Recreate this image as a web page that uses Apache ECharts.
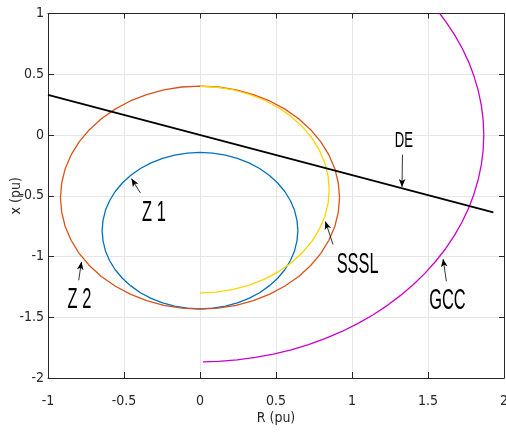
<!DOCTYPE html>
<html><head><meta charset="utf-8">
<script src="https://cdn.jsdelivr.net/npm/echarts@6/dist/echarts.min.js"></script>
<style>html,body{margin:0;padding:0;background:#fff}#c{width:506px;height:439px}</style>
</head><body><div id="c"></div>
<script>
// ---- data ----
const xTicks = [-1, -0.5, 0, 0.5, 1, 1.5, 2];
const yTicks = [-2, -1.5, -1, -0.5, 0, 0.5, 1];

const z1 = [[0.644,-0.787],[0.638,-0.703],[0.622,-0.620],[0.595,-0.541],[0.558,-0.465],[0.511,-0.395],[0.455,-0.332],
  [0.392,-0.276],[0.322,-0.229],[0.246,-0.192],[0.167,-0.165],[0.084,-0.149],[0,-0.143],
  [-0.084,-0.149],[-0.167,-0.165],[-0.246,-0.192],[-0.322,-0.229],[-0.392,-0.276],[-0.455,-0.332],[-0.511,-0.395],
  [-0.558,-0.465],[-0.595,-0.541],[-0.622,-0.620],[-0.638,-0.703],[-0.644,-0.787],
  [-0.638,-0.871],[-0.622,-0.954],[-0.595,-1.033],[-0.558,-1.109],[-0.511,-1.179],[-0.455,-1.242],[-0.392,-1.298],
  [-0.322,-1.345],[-0.246,-1.382],[-0.167,-1.409],[-0.084,-1.425],[0,-1.431],
  [0.084,-1.425],[0.167,-1.409],[0.246,-1.382],[0.322,-1.345],[0.392,-1.298],[0.455,-1.242],[0.511,-1.179],
  [0.558,-1.109],[0.595,-1.033],[0.622,-0.954],[0.638,-0.871],[0.644,-0.787]];

const z2 = [[0.918,-0.515],[0.910,-0.395],[0.887,-0.277],[0.848,-0.164],[0.795,-0.056],[0.728,0.044],[0.649,0.134],
  [0.559,0.213],[0.459,0.280],[0.351,0.333],[0.238,0.372],[0.120,0.395],[0,0.403],
  [-0.120,0.395],[-0.238,0.372],[-0.351,0.333],[-0.459,0.280],[-0.559,0.213],[-0.649,0.134],[-0.728,0.044],
  [-0.795,-0.056],[-0.848,-0.164],[-0.887,-0.277],[-0.910,-0.395],[-0.918,-0.515],
  [-0.910,-0.635],[-0.887,-0.753],[-0.848,-0.866],[-0.795,-0.974],[-0.728,-1.074],[-0.649,-1.164],[-0.559,-1.243],
  [-0.459,-1.310],[-0.351,-1.363],[-0.238,-1.402],[-0.120,-1.425],[0,-1.433],
  [0.120,-1.425],[0.238,-1.402],[0.351,-1.363],[0.459,-1.310],[0.559,-1.243],[0.649,-1.164],[0.728,-1.074],
  [0.795,-0.974],[0.848,-0.866],[0.887,-0.753],[0.910,-0.635],[0.918,-0.515]];

const sssl = [[0,0.400],[0.111,0.393],[0.220,0.371],[0.325,0.335],[0.425,0.286],[0.517,0.224],[0.601,0.151],
  [0.674,0.067],[0.736,-0.025],[0.785,-0.125],[0.821,-0.230],[0.843,-0.339],[0.850,-0.450],
  [0.843,-0.561],[0.821,-0.670],[0.785,-0.775],[0.736,-0.875],[0.674,-0.967],[0.601,-1.051],
  [0.517,-1.124],[0.425,-1.186],[0.325,-1.235],[0.220,-1.271],[0.111,-1.293],[0,-1.300]];

const gcc = [[1.577,1.000],[1.617,0.934],[1.674,0.826],[1.725,0.714],[1.768,0.600],[1.803,0.483],[1.831,0.364],
  [1.851,0.244],[1.863,0.122],[1.867,0],
  [1.863,-0.122],[1.851,-0.244],[1.831,-0.364],[1.803,-0.483],[1.768,-0.600],[1.725,-0.714],[1.674,-0.826],
  [1.617,-0.934],[1.552,-1.037],[1.481,-1.137],[1.404,-1.231],[1.320,-1.320],[1.231,-1.404],[1.137,-1.481],
  [1.037,-1.552],[0.934,-1.617],[0.826,-1.674],[0.714,-1.725],[0.600,-1.768],[0.483,-1.803],[0.364,-1.831],
  [0.244,-1.851],[0.122,-1.863],[0.020,-1.867]];

const de = [[-1,0.330],[1.930,-0.637]];

const labelTexts = ['Z 1', 'Z 2', 'SSSL', 'GCC', 'DE'];

// annotation anchors (data coordinates)
const labelAt = [[-0.303,-0.640],[-0.793,-1.359],[1.037,-1.070],[1.628,-1.362],[1.341,-0.049]];
const arrowFrom = [[-0.392,-0.477],[-0.798,-1.196],[0.875,-0.902],[1.621,-1.204],[1.332,-0.162]];
const arrowTo   = [[-0.451,-0.359],[-0.780,-1.044],[0.825,-0.711],[1.599,-1.020],[1.329,-0.428]];

// ---- chart ----
const NARROW = "'Liberation Sans Narrow','DejaVu Sans Condensed','Liberation Sans',Arial,sans-serif";
const AX = '#262626';
const chart = echarts.init(document.getElementById('c'), null, {renderer: 'canvas'});

function mainAxis(ticks, pos, name, extra) {
  return Object.assign({
    type: 'value', position: pos,
    min: ticks[0], max: ticks[ticks.length - 1], interval: ticks[1] - ticks[0],
    axisLine: {show: true, onZero: false, lineStyle: {color: AX, width: 1}},
    axisTick: {show: true, inside: true, length: 6, lineStyle: {color: AX}},
    splitLine: {show: true, lineStyle: {color: '#e6e6e6', width: 1}},
    name: name, nameLocation: 'middle', nameMoveOverlap: false,
    nameTextStyle: {color: AX, fontSize: 14, fontFamily: NARROW}
  }, extra);
}
function mirrorAxis(ticks, pos) {
  return {
    type: 'value', position: pos,
    min: ticks[0], max: ticks[ticks.length - 1], interval: ticks[1] - ticks[0],
    axisLine: {show: true, onZero: false, lineStyle: {color: AX, width: 1}},
    axisTick: {show: true, inside: true, length: 5, lineStyle: {color: AX}},
    axisLabel: {show: false}, splitLine: {show: false}
  };
}

const curve = (name, data, color, width) => ({
  type: 'line', name, data, xAxisIndex: 0, yAxisIndex: 0,
  smooth: false, showSymbol: false, symbol: 'none', clip: true,
  lineStyle: {color, width}, silent: true, z: 2
});

const arrows = labelTexts.map((t, i) => [
  {coord: arrowFrom[i], symbol: 'none'},
  {coord: arrowTo[i], symbol: 'arrow'}
]);

const option = {
  animation: false,
  backgroundColor: '#ffffff',
  grid: {left: 48, right: 2, top: 13.5, bottom: 61, containLabel: false, outerBoundsMode: 'none'},
  xAxis: [
    mainAxis(xTicks, 'bottom', 'R (pu)', {nameGap: 33,
      axisLabel: {color: AX, fontSize: 14, fontFamily: NARROW, margin: 16, showMinLabel: true, showMaxLabel: true}}),
    mirrorAxis(xTicks, 'top')
  ],
  yAxis: [
    mainAxis(yTicks, 'left', 'x (pu)', {nameGap: 25, nameRotate: 90,
      axisLabel: {color: AX, fontSize: 14, fontFamily: NARROW, margin: 4, showMinLabel: true, showMaxLabel: true}}),
    mirrorAxis(yTicks, 'right')
  ],
  series: [
    curve('Z1', z1, '#0072BD', 1.3),
    curve('Z2', z2, '#D95319', 1.3),
    curve('SSSL', sssl, '#FFD400', 1.3),
    curve('GCC', gcc, '#CC00CC', 1.3),
    Object.assign(curve('DE', de, '#000000', 1.8), {
      markLine: {
        silent: true, animation: false,
        symbolSize: [5, 8],
        label: {show: false},
        lineStyle: {color: '#000000', width: 0.8, type: 'solid'},
        emphasis: {disabled: true},
        data: arrows
      }
    })
  ]
};
chart.setOption(option);

// annotation texts (tall, narrow MATLAB-like text), placed through the grid's scales
const graphics = labelTexts.map((t, i) => {
  const p = chart.convertToPixel({gridIndex: 0}, labelAt[i]);
  const big = t !== 'DE';
  return {
    type: 'text', x: p[0], y: p[1],
    scaleX: 0.82, scaleY: big ? 1.47 : 1.37,
    silent: true, z: 10,
    style: {text: t, fill: '#000', fontSize: big ? 20 : 16, fontFamily: "'Liberation Sans',Arial,sans-serif",
            align: 'center', verticalAlign: 'middle'}
  };
});
chart.setOption({graphic: graphics});
</script>
</body></html>
